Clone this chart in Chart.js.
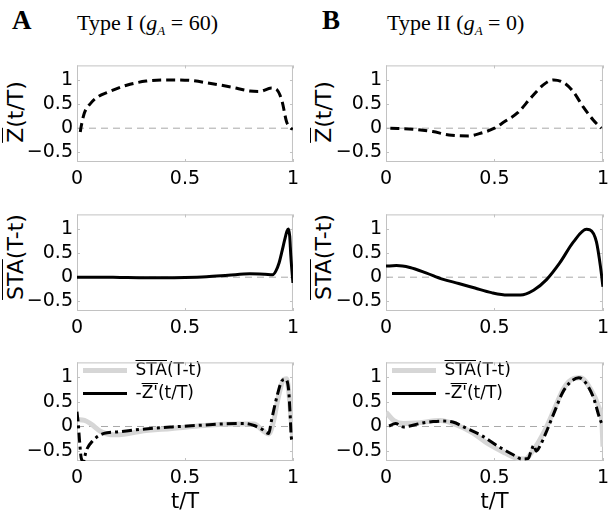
<!DOCTYPE html>
<html>
<head>
<meta charset="utf-8">
<script src="https://cdn.jsdelivr.net/npm/chart.js@4.4.0/dist/chart.umd.min.js"></script>
<style>
  body { margin: 0; width: 615px; height: 510px; background: #fff; position: relative; overflow: hidden; }
  canvas { position: absolute; }
  .lab { position: absolute; font-family: "Liberation Serif", serif; line-height: 1; white-space: nowrap; color: #000; }
  .lab sub { font-size: 13px; vertical-align: -5px; line-height: 0; }
  .ytl { position: absolute; font-family: "DejaVu Sans"; font-size: 22px; line-height: 1; white-space: nowrap;
         transform: translate(-50%, -50%) rotate(-90deg); }
  .ol { text-decoration: overline; text-decoration-thickness: 1px; }
</style>
</head>
<body>
<div class="lab" style="left:12px;top:7px;font-size:27px;font-weight:bold">A</div>
<div class="lab" style="left:77px;top:12px;font-size:22px">Type I (<i>g</i><sub><i>A</i></sub> = 60)</div>
<div class="lab" style="left:322px;top:7px;font-size:27px;font-weight:bold">B</div>
<div class="lab" style="left:387px;top:12px;font-size:22px">Type II (<i>g</i><sub><i>A</i></sub> = 0)</div>

<div class="ytl" style="left:16px;top:112px"><span class="ol">Z</span>(t/T)</div>
<div class="ytl" style="left:324px;top:112px"><span class="ol">Z</span>(t/T)</div>
<div class="ytl" style="left:16px;top:257px"><span class="ol">STA</span>(T-t)</div>
<div class="ytl" style="left:324px;top:257px"><span class="ol">STA</span>(T-t)</div>

<canvas id="a1" width="305" height="142" style="left:0;top:50px"></canvas>
<canvas id="b1" width="306" height="142" style="left:309px;top:50px"></canvas>
<canvas id="a2" width="305" height="142" style="left:0;top:199px"></canvas>
<canvas id="b2" width="306" height="142" style="left:309px;top:199px"></canvas>
<canvas id="a3" width="305" height="163" style="left:0;top:347px"></canvas>
<canvas id="b3" width="306" height="163" style="left:309px;top:347px"></canvas>

<script>
// axis ticks
const xTicks = [0, 0.5, 1];
const yTicks = [-0.5, 0, 0.5, 1];
const yMin = -0.7, yMax = 1.3;

// Type I, phase response Z(t/T)
const zA_t = [0.015, 0.02, 0.033, 0.064, 0.10, 0.14, 0.23, 0.32, 0.43, 0.52, 0.62, 0.715, 0.80, 0.845, 0.90, 0.925, 0.95, 0.97, 0.99, 1.0];
const zA_v = [-0.08, 0.05, 0.3, 0.52, 0.66, 0.74, 0.89, 0.975, 1.0, 0.99, 0.925, 0.85, 0.77, 0.76, 0.83, 0.80, 0.55, 0.14, 0.0, -0.02];
// Type II, Z(t/T)
const zB_t = [0.02, 0.124, 0.215, 0.29, 0.38, 0.44, 0.50, 0.547, 0.607, 0.668, 0.728, 0.773, 0.82, 0.864, 0.909, 0.955, 0.992];
const zB_v = [0, -0.02, -0.07, -0.14, -0.16, -0.1, 0, 0.136, 0.32, 0.63, 0.907, 1.0, 0.94, 0.75, 0.44, 0.17, 0.0];

// STA(T-t)
const sA_t = [0, 0.1, 0.2, 0.3, 0.4, 0.5, 0.6, 0.7, 0.8, 0.87, 0.906, 0.92, 0.936, 0.95, 0.961, 0.972, 0.979, 0.985, 0.99, 0.995, 1.0];
const sA_v = [0, 0, -0.005, -0.01, -0.01, -0.005, 0.01, 0.04, 0.07, 0.06, 0.05, 0.12, 0.3, 0.55, 0.76, 0.95, 1.0, 0.85, 0.45, 0.15, -0.12];
const sB_t = [0, 0.048, 0.11, 0.184, 0.26, 0.335, 0.41, 0.486, 0.56, 0.62, 0.68, 0.74, 0.80, 0.864, 0.924, 0.94, 0.97, 0.99, 1.0];
const sB_v = [0.23, 0.24, 0.2, 0.09, -0.04, -0.13, -0.225, -0.32, -0.37, -0.37, -0.27, -0.05, 0.29, 0.73, 0.99, 0.98, 0.73, 0.17, -0.2];

// bottom row: STA again vs -Z'(t/T)
const sA2_t = [0, 0.035, 0.065, 0.11, 0.17, 0.216, 0.29, 0.44, 0.59, 0.745, 0.82, 0.858, 0.888, 0.91, 0.933, 0.956, 0.97, 0.98, 0.992, 1.0];
const sA2_v = [0.14, 0.125, 0.05, -0.1, -0.17, -0.16, -0.1, -0.04, 0.02, 0.05, 0.05, -0.075, -0.15, 0.11, 0.61, 0.95, 0.97, 0.74, 0.11, -0.23];
const dzA_t = [0, 0.006, 0.012, 0.02, 0.03, 0.042, 0.073, 0.125, 0.186, 0.29, 0.44, 0.59, 0.67, 0.775, 0.82, 0.858, 0.888, 0.90, 0.926, 0.948, 0.964, 0.98, 0.987, 0.992, 0.998];
const dzA_v = [0.3, 0.05, -0.3, -0.65, -0.7, -0.5, -0.29, -0.14, -0.11, -0.06, -0.01, 0.03, 0.05, 0.06, 0.02, -0.06, -0.14, 0.11, 0.61, 0.92, 0.96, 0.74, 0.24, -0.2, -0.3];
const sB2_t = [0, 0.036, 0.08, 0.14, 0.25, 0.32, 0.40, 0.47, 0.55, 0.594, 0.64, 0.685, 0.73, 0.775, 0.82, 0.866, 0.896, 0.94, 0.98, 0.995, 1.0];
const sB2_v = [0.29, 0.12, 0.06, 0.07, 0.12, 0.04, -0.13, -0.35, -0.54, -0.63, -0.66, -0.44, -0.1, 0.34, 0.78, 0.975, 0.99, 0.78, 0.4, 0.09, -0.41];
const dzB_t = [0.014, 0.044, 0.08, 0.11, 0.157, 0.217, 0.26, 0.308, 0.368, 0.443, 0.52, 0.594, 0.625, 0.655, 0.67, 0.682, 0.692, 0.708, 0.737, 0.775, 0.813, 0.85, 0.888, 0.918, 0.956, 0.986, 1.0];
const dzB_v = [0.01, 0.06, -0.01, 0.01, 0.06, 0.1, 0.11, 0.09, -0.03, -0.19, -0.41, -0.59, -0.66, -0.65, -0.48, -0.38, -0.5, -0.41, -0.13, 0.28, 0.68, 0.9, 0.99, 0.9, 0.59, 0.15, 0.01];

Chart.defaults.font.family = 'DejaVu Sans';
Chart.defaults.color = '#000';

function pts(t, v) { return t.map((x, i) => ({ x: x, y: v[i] })); }
function fmt(v) { return v < 0 ? '\u2212' + Math.abs(v) : String(v); }

const zeroLine = () => ({
  label: 'zero', data: [{ x: xTicks[0], y: 0 }, { x: xTicks[xTicks.length - 1], y: 0 }],
  borderColor: '#a8a8a8', borderWidth: 1, borderDash: [7, 5], order: 3
});
const zLine = (t, v) => ({ label: 'Z', data: pts(t, v), borderColor: '#000', borderWidth: 3, borderDash: [9, 5], order: 0 });
const staLine = (t, v) => ({ label: 'STA', data: pts(t, v), borderColor: '#000', borderWidth: 3, order: 0 });
// overline: [from, to] character range that carries a bar in the legend
const staGray = (t, v) => ({ label: 'STA(T-t)', overline: [0, 3], data: pts(t, v), borderColor: '#d6d6d6', borderWidth: 5, pointStyle: 'line', order: 1 });
const dzLine = (t, v) => ({ label: "-Z'(t/T)", overline: [1, 3], data: pts(t, v), borderColor: '#000', borderWidth: 3, borderDash: [10, 4, 3, 4], pointStyle: 'line', order: 0 });

// MATLAB style box with small inward ticks
const boxPlugin = {
  id: 'box',
  beforeDatasetsDraw(chart) {
    const { ctx, chartArea: a, scales } = chart;
    ctx.save();
    ctx.strokeStyle = '#c2c2c2';
    ctx.lineWidth = 1;
    ctx.strokeRect(a.left + 0.5, a.top + 0.5, a.width - 1, a.height - 1);
    ctx.beginPath();
    xTicks.forEach(v => {
      const px = Math.round(scales.x.getPixelForValue(v)) + 0.5;
      ctx.moveTo(px, a.bottom); ctx.lineTo(px, a.bottom - 3);
      ctx.moveTo(px, a.top); ctx.lineTo(px, a.top + 3);
    });
    yTicks.forEach(v => {
      const py = Math.round(scales.y.getPixelForValue(v)) + 0.5;
      ctx.moveTo(a.left, py); ctx.lineTo(a.left + 3, py);
      ctx.moveTo(a.right, py); ctx.lineTo(a.right - 3, py);
    });
    ctx.stroke();
    ctx.restore();
  }
};

// bars over legend text (STA, Z')
const overlinePlugin = {
  id: 'overline',
  afterDraw(chart) {
    const lg = chart.legend;
    if (!lg || !lg.options.display || !lg.legendItems) return;
    const ctx = chart.ctx;
    const lab = lg.options.labels;
    const font = Chart.helpers.toFont(lab.font);
    ctx.save();
    ctx.font = font.string;
    ctx.strokeStyle = '#000';
    ctx.lineWidth = 1;
    lg.legendItems.forEach((item, i) => {
      const ds = chart.data.datasets[item.datasetIndex];
      const box = lg.legendHitBoxes[i];
      if (!ds.overline || !box) return;
      const x0 = box.left + lab.pointStyleWidth + font.size / 2;
      const xa = x0 + ctx.measureText(item.text.slice(0, ds.overline[0])).width;
      const xb = x0 + ctx.measureText(item.text.slice(0, ds.overline[1])).width;
      const y = Math.round(box.top + box.height / 2 - font.size * 0.5) - 1.5;
      ctx.beginPath();
      ctx.moveTo(xa, y); ctx.lineTo(xb, y);
      ctx.stroke();
    });
    ctx.restore();
  }
};

function panel(id, datasets, opts) {
  return new Chart(document.getElementById(id), {
    type: 'line',
    data: { datasets: datasets },
    options: {
      responsive: false,
      animation: false,
      layout: { padding: { top: 6, right: opts.right, left: 0, bottom: 0 } },
      elements: { point: { radius: 0 }, line: { cubicInterpolationMode: 'monotone' } },
      plugins: {
        tooltip: { enabled: false },
        legend: {
          display: !!opts.legend,
          position: 'chartArea',
          align: 'start',
          title: { display: true, text: '', font: { size: 9, lineHeight: 1 }, padding: 0 },
          labels: {
            usePointStyle: true,
            pointStyleWidth: 44,
            boxHeight: 17,
            padding: 6,
            font: { size: 17 },
            filter: item => item.text !== 'zero',
            sort: (a, b) => a.datasetIndex - b.datasetIndex
          }
        }
      },
      scales: {
        x: {
          type: 'linear', min: xTicks[0], max: xTicks[xTicks.length - 1],
          grid: { display: false, drawTicks: false },
          border: { display: false },
          afterBuildTicks: s => { s.ticks = xTicks.map(v => ({ value: v })); },
          afterFit: s => { s.height = opts.xh; },
          ticks: { padding: 6, font: { size: 19 }, maxRotation: 0, autoSkip: false, callback: fmt },
          title: { display: !!opts.xTitle, text: opts.xTitle || '', font: { size: 21, lineHeight: 0.75 }, padding: 0 }
        },
        y: {
          min: yMin, max: yMax,
          grid: { display: false, drawTicks: false },
          border: { display: false },
          afterBuildTicks: s => { s.ticks = yTicks.map(v => ({ value: v })); },
          afterFit: s => { s.width = 77; },
          ticks: { padding: 4, font: { size: 19 }, autoSkip: false, callback: fmt }
        }
      }
    },
    plugins: [boxPlugin, overlinePlugin]
  });
}

panel('a1', [zLine(zA_t, zA_v), zeroLine()], { right: 7, xh: 30 });
panel('b1', [zLine(zB_t, zB_v), zeroLine()], { right: 8, xh: 30 });
panel('a2', [staLine(sA_t, sA_v), zeroLine()], { right: 7, xh: 30 });
panel('b2', [staLine(sB_t, sB_v), zeroLine()], { right: 8, xh: 30 });
panel('a3', [staGray(sA2_t, sA2_v), dzLine(dzA_t, dzA_v), zeroLine()], { right: 7, xh: 49, xTitle: 't/T', legend: true });
panel('b3', [staGray(sB2_t, sB2_v), dzLine(dzB_t, dzB_v), zeroLine()], { right: 8, xh: 49, xTitle: 't/T', legend: true });
</script>
</body>
</html>
